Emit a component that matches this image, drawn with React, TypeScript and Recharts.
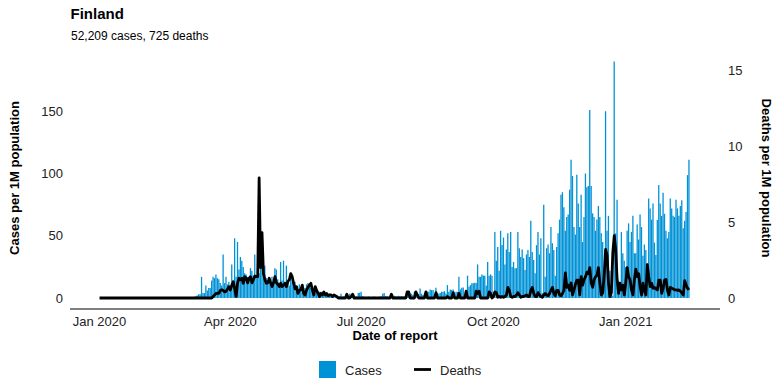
import React from 'react';
import { ComposedChart, Bar, Line, XAxis, YAxis } from 'recharts';

// Daily cases per 1M population, one value per day starting 1 Jan 2020
const casesJan2020 = [0,0,0,0,0,0,0,0,0,0, 0,0,0,0,0,0,0,0,0,0, 0,0,0,0,0,0,0,0,0.2,0, 0];
const casesFeb2020 = [0,0,0,0,0,0,0,0,0,0, 0,0,0,0,0,0,0,0,0,0, 0,0,0,0,0,0.2,0,0.2,0];
const casesMar2020 = [0,0.2,0.3,0.2,0.5,0.8,1,1.5,2,3, 3,17,4,4,10,6,8,8,14,17, 16,19,16,15,12,10,35,12,17,11, 13];
const casesApr2020 = [9,27,14,48,17,45,23,33,30,25, 20,19,17,15,24,22,18,35,16,22, 20,28,30,17,26,16,14,13,12,17];
const casesMay2020 = [10,24,23,15,12,29,14,30,13,26, 13,10,17,13,9,13,7,6,11,9, 7,6,8,11,12,10,8,7,6,9, 6];
const casesJun2020 = [5,5,5,4,5,4,4,3.5,3.5,2.5, 2,2,1.6,1.5,1.2,1.5,3.5,1.2,1.5,1.2, 1.5,1,3.5,1.2,2.2,2.8,1.2,1.5,4,4.2];
const casesJul2020 = [5,1.5,1,1,0.8,1.2,1,0.8,1,1.2, 1,0.8,1,1.2,1.5,3.5,4,1.5,1.5,1, 1.2,1.5,1,1.8,1.5,1.2,1.8,1.5,1.5,1.2, 1.5];
const casesAug2020 = [2,5,3,3.7,3.5,2.5,5,3.7,3,3, 7.7,3.5,2.5,3.7,4,5,5,6.9,6.4,6.4, 3,8.2,4,3.5,4,5,5,5.5,3.7,10.4, 5];
const casesSep2020 = [6.9,6.4,6.9,3.5,5,5,17,6.9,8.2,8.5, 3,6,18,9,10.4,11.8,11.8,12.3,12,27, 17,17,19,18,18,10,29,18,19,18];
const casesOct2020 = [5,53,30,41,22,54,42.5,48.6,27,39, 52,37,53,25,29,24,24,53,40,33, 39,32,22.5,35,38.5,33,62,37,30.5,20, 42.5];
const casesNov2020 = [53,35,48,4,75,17,40,43,36,57, 44,38.5,18,41,52,63,83,85,73,54, 65,67,87,111,98,57,51,99,76,57];
const casesDec2020 = [83,45,65,100,89,90,151,90,68,65, 54,63,74,65,52,45,17,150,54,66, 22,2.5,2,190,52,79,14,8,53,36, 30];
const casesJan2021 = [25,54,60,45,53,66,36,36,59,47, 67,57,34,43,38.5,28,80,72,63,76, 44.5,34.6,62.6,90.8,76,66,84.6,67.7,54,48, 53];
const casesFeb2021 = [80,72,66,65,79,72,66,74,78.6,56, 62,69,98.7,111];

// Daily deaths per 1M population, same days
const deathsJan2020 = [0,0,0,0,0,0,0,0,0,0, 0,0,0,0,0,0,0,0,0,0, 0,0,0,0,0,0,0,0,0,0, 0];
const deathsFeb2020 = [0,0,0,0,0,0,0,0,0,0, 0,0,0,0,0,0,0,0,0,0, 0,0,0,0,0,0,0,0,0];
const deathsMar2020 = [0,0,0,0,0,0,0,0,0,0, 0,0,0,0,0,0,0,0,0,0.1, 0.2,0.3,0.3,0.3,0.5,0.55,0.5,0.4,0.45,0.6, 0.75];
const deathsApr2020 = [0.53,0.85,1.07,0.6,0.1,1.0,1.3,1.2,1.3,0.97, 1.4,1.3,1.0,1.3,1.4,1.0,1.2,1.45,1.4,1.4, 7.9,2.0,4.3,1.6,1.2,0.97,1.0,1.3,1.0,0.75];
const deathsMay2020 = [1.0,1.4,1.0,0.9,0.75,0.97,0.75,0.85,0.97,0.75, 1.1,1.2,1.6,1.4,0.97,0.6,0.75,0.3,0.5,0.53, 0.85,0.3,0.2,0.53,0.7,0.85,0.97,0.53,0.2,0.75, 0.5];
const deathsJun2020 = [0.3,0.09,0.3,0.2,0.4,0.2,0.3,0.15,0.2,0.2, 0.09,0.2,0.15,0.1,0,0,0,0,0,0, 0.25,0,0,0.1,0.25,0,0,0,0,0];
const deathsJul2020 = [0,0,0,0,0,0,0,0,0,0, 0,0,0,0,0,0,0,0,0,0, 0,0.25,0,0,0,0,0,0,0,0, 0];
const deathsAug2020 = [0,0.4,0.4,0,0,0,0,0.4,0.2,0, 0,0,0,0,0.4,0,0,0,0,0, 0,0.35,0,0,0,0,0,0,0,0.1, 0];
const deathsSep2020 = [0,0,0.35,0,0,0,0.3,0,0,0, 0,0.45,0,0,0,0,0,0,0.45,0.3, 0.45,0,0,0,0,0,0,0.4,0.3,0];
const deathsOct2020 = [0.1,0.4,0.35,0.05,0.1,0.05,0.1,0.05,0.1,0.2, 0.7,0.5,0.1,0.05,0.1,0.1,0.2,0.35,0.2,0.05, 0.1,0.1,0.15,0.2,0.1,0.1,0.5,0.7,0.3,0.1, 0.1];
const deathsNov2020 = [0.35,0.2,0.1,0.05,0.2,0.3,0.2,0.15,0.3,0.5, 0.7,0.3,0.15,0.5,0.5,0.2,0.15,0.3,0.5,1.65, 0.7,0.85,0.5,1.0,0.2,0.53,0.9,1.18,1.18,0.2];
const deathsDec2020 = [1.4,0.85,1.2,1.4,1.7,1.6,2.0,0.97,0.7,1.2, 1.4,1.5,2.0,0.97,0.2,0.35,1.5,3.2,2.8,0.97, 0.09,0.35,3.0,4.1,3.2,1.2,0.3,0.97,0.53,0.85, 0.2];
const deathsJan2021 = [1.0,2.0,1.4,1.2,0.53,0.2,1.2,1.9,1.4,1.6, 0.75,0.2,0.97,0.5,0.2,2.2,1.4,0.75,0.97,0.64, 0.7,0.6,0.53,1.18,1.18,0.3,0.64,1.18,1.22,0.5, 0.2];
const deathsFeb2021 = [0.7,0.64,0.6,0.53,0.53,0.5,0.53,0.45,0.35,0.2, 1.14,0.85,0.64,0.53];

const cases = [
  ...casesJan2020, ...casesFeb2020, ...casesMar2020, ...casesApr2020, ...casesMay2020,
  ...casesJun2020, ...casesJul2020, ...casesAug2020, ...casesSep2020, ...casesOct2020,
  ...casesNov2020, ...casesDec2020, ...casesJan2021, ...casesFeb2021,
];
const deaths = [
  ...deathsJan2020, ...deathsFeb2020, ...deathsMar2020, ...deathsApr2020, ...deathsMay2020,
  ...deathsJun2020, ...deathsJul2020, ...deathsAug2020, ...deathsSep2020, ...deathsOct2020,
  ...deathsNov2020, ...deathsDec2020, ...deathsJan2021, ...deathsFeb2021,
];

// x axis ticks: day offsets from 1 Jan 2020
const tickDays = [0, 91, 182, 274, 366];
const tickLabels = ['Jan 2020', 'Apr 2020', 'Jul 2020', 'Oct 2020', 'Jan 2021'];
const casesTicks = [0, 50, 100, 150];
const deathsTicks = [0, 5, 10, 15];

const title = 'Finland';
const subtitle = '52,209 cases, 725 deaths';

const data = cases.map((c, i) => ({ day: i, cases: c, deaths: deaths[i] }));

const BLUE = '#0092D6';
const FONT = '"Liberation Sans", Arial, Helvetica, sans-serif';

export default function App() {
  return (
    <div style={{ position: 'absolute', left: 0, top: 0, width: 784, height: 392, background: '#fff', fontFamily: FONT }}>
      <ComposedChart
        width={784}
        height={392}
        data={data}
        margin={{ top: 47, right: 24, bottom: 53, left: 30 }}
        style={{ fontFamily: FONT }}
      >
        <XAxis
          dataKey="day"
          type="number"
          domain={[-20.55, 431.55]}
          allowDataOverflow
          ticks={tickDays}
          interval={0}
          tickFormatter={(v: number) => tickLabels[tickDays.indexOf(v)] ?? ''}
          tickLine={false}
          axisLine={{ stroke: '#000', strokeWidth: 1 }}
          height={30}
          tick={{ fontSize: 13, fill: '#222' }}
        />
        <YAxis
          yAxisId="left"
          orientation="left"
          width={40}
          type="number"
          domain={[-8.8, 201.6]}
          allowDataOverflow
          ticks={casesTicks}
          interval={0}
          axisLine={false}
          tickLine={false}
          tickMargin={1}
          tick={{ fontSize: 13, fill: '#222' }}
        />
        <YAxis
          yAxisId="right"
          orientation="right"
          width={40}
          type="number"
          domain={[-0.7236, 16.514]}
          allowDataOverflow
          ticks={deathsTicks}
          interval={0}
          axisLine={false}
          tickLine={false}
          tick={{ fontSize: 13, fill: '#222' }}
        />
        <Bar yAxisId="left" dataKey="cases" fill={BLUE} barSize={1.3} isAnimationActive={false} />
        <Line
          yAxisId="right"
          dataKey="deaths"
          type="linear"
          stroke="#000"
          strokeWidth={2.8}
          strokeLinejoin="round"
          dot={false}
          activeDot={false}
          isAnimationActive={false}
        />
      </ComposedChart>
      <svg
        width={784}
        height={392}
        style={{ position: 'absolute', left: 0, top: 0, pointerEvents: 'none', fontFamily: FONT }}
      >
        <text x={70.5} y={18.5} fontSize={15} fontWeight="bold" fill="#000">{title}</text>
        <text x={71} y={40} fontSize={12} fill="#000">{subtitle}</text>
        <text transform="translate(18.5,178) rotate(-90)" textAnchor="middle" fontSize={13} fontWeight="bold" fill="#000">
          Cases per 1M population
        </text>
        <text transform="translate(761.5,178) rotate(90)" textAnchor="middle" fontSize={13} fontWeight="bold" fill="#000">
          Deaths per 1M population
        </text>
        <text x={395} y={340} textAnchor="middle" fontSize={13} fontWeight="bold" fill="#000">Date of report</text>
        <rect x={319} y={361} width={17} height={17} fill={BLUE} />
        <text x={345} y={375} fontSize={13} fill="#222">Cases</text>
        <line x1={414} x2={431} y1={369.5} y2={369.5} stroke="#000" strokeWidth={2.8} />
        <text x={440} y={375} fontSize={13} fill="#222">Deaths</text>
      </svg>
    </div>
  );
}
